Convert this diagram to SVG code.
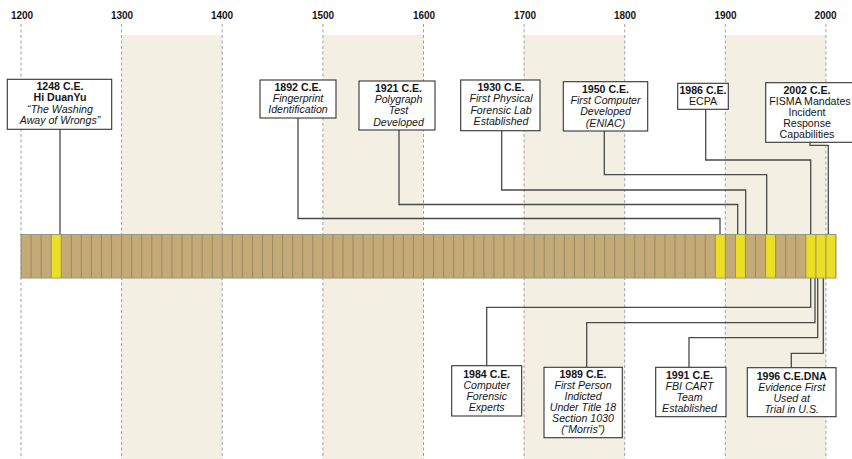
<svg xmlns="http://www.w3.org/2000/svg" width="852" height="459" viewBox="0 0 852 459">
<style>
text{font-family:"Liberation Sans",Arial,sans-serif;font-size:10.6px;fill:#151515;text-anchor:middle}
.ax{font-weight:bold;font-size:10px}
.b{font-weight:bold}
.i{font-style:italic}
.band{fill:#f3efe3}
.dash{stroke:#a0a0a0;stroke-width:1;stroke-dasharray:3 2.5}
.box{fill:#fff;stroke:#333;stroke-width:1.1}
.yel{fill:#ebdf26}
#connectors path{fill:none;stroke:#4a4a4a;stroke-width:1.3}
</style>
<rect width="852" height="459" fill="#fff"/>
<g id="bands">
<rect class="band" x="121.6" y="35" width="100.6" height="424"/>
<rect class="band" x="322.9" y="35" width="100.6" height="424"/>
<rect class="band" x="524.1" y="35" width="100.6" height="424"/>
<rect class="band" x="725.3" y="35" width="100.6" height="424"/>
</g>
<g id="axis">
<line class="dash" x1="21" y1="24" x2="21" y2="459"/>
<line class="dash" x1="121.6" y1="24" x2="121.6" y2="459"/>
<line class="dash" x1="222.2" y1="24" x2="222.2" y2="459"/>
<line class="dash" x1="322.9" y1="24" x2="322.9" y2="459"/>
<line class="dash" x1="423.5" y1="24" x2="423.5" y2="459"/>
<line class="dash" x1="524.1" y1="24" x2="524.1" y2="459"/>
<line class="dash" x1="624.7" y1="24" x2="624.7" y2="459"/>
<line class="dash" x1="725.3" y1="24" x2="725.3" y2="459"/>
<line class="dash" x1="825.9" y1="24" x2="825.9" y2="459"/>
<text class="ax" x="22" y="19">1200</text>
<text class="ax" x="122" y="19">1300</text>
<text class="ax" x="222" y="19">1400</text>
<text class="ax" x="323" y="19">1500</text>
<text class="ax" x="424" y="19">1600</text>
<text class="ax" x="525" y="19">1700</text>
<text class="ax" x="625" y="19">1800</text>
<text class="ax" x="725.5" y="19">1900</text>
<text class="ax" x="825.5" y="19">2000</text>
</g>
<g id="connectors">
<path d="M60,129.3V234.5"/>
<path d="M298,118V218.5H720V234.5"/>
<path d="M399,130V204.5H737.7V234.5"/>
<path d="M501.7,130.7V190H745.7V234.5"/>
<path d="M604.3,131V174.7H766.7V234.5"/>
<path d="M705.7,109.3V160H810.7V234.5"/>
<path d="M810,142.3V145.3H828.3V234.5"/>
<path d="M810.7,278V307.3H486.7V365.7"/>
<path d="M815,278V322.7H586.7V367.3"/>
<path d="M817.7,278V337.7H689V367.3"/>
<path d="M823.3,278V353.3H791.3V367.7"/>
</g>
<g id="bar">
<rect x="21" y="234.5" width="815" height="43.5" fill="#c4aa76"/>
<rect class="yel" x="51.2" y="234.5" width="10.06" height="43.5"/>
<rect class="yel" x="715.26" y="234.5" width="10.06" height="43.5"/>
<rect class="yel" x="735.38" y="234.5" width="10.06" height="43.5"/>
<rect class="yel" x="765.57" y="234.5" width="10.06" height="43.5"/>
<rect class="yel" x="805.81" y="234.5" width="30.19" height="43.5"/>
<line x1="21" y1="256.25" x2="836" y2="256.25" stroke="#9b8a66" stroke-width="43.5" stroke-dasharray="1 9.0617" stroke-dashoffset="0.5"/>
<rect x="21" y="234.5" width="815" height="43.5" fill="none" stroke="#9a9680" stroke-width="1"/>
</g>
<g id="n1248">
<rect class="box" x="7.3" y="79.3" width="104.4" height="50"/>
<text class="b" x="60" y="90">1248 C.E.</text>
<text class="b" x="60" y="101.3">Hi DuanYu</text>
<text class="i" x="60" y="112.6">“The Washing</text>
<text class="i" x="60" y="123.9">Away of Wrongs”</text>
</g>
<g id="n1892">
<rect class="box" x="260" y="80" width="76" height="38"/>
<text class="b" x="298" y="90.5">1892 C.E.</text>
<text class="i" x="298" y="101.8">Fingerprint</text>
<text class="i" x="298" y="113.1">Identification</text>
</g>
<g id="n1921">
<rect class="box" x="359" y="81" width="76" height="49"/>
<text class="b" x="398.5" y="91.7">1921 C.E.</text>
<text class="i" x="398.5" y="103">Polygraph</text>
<text class="i" x="398.5" y="114.3">Test</text>
<text class="i" x="398.5" y="125.6">Developed</text>
</g>
<g id="n1930">
<rect class="box" x="460.7" y="80" width="79.3" height="50.7"/>
<text class="b" x="501" y="91">1930 C.E.</text>
<text class="i" x="501" y="102.3">First Physical</text>
<text class="i" x="501" y="113.6">Forensic Lab</text>
<text class="i" x="501" y="124.9">Established</text>
</g>
<g id="n1950">
<rect class="box" x="563.3" y="81.7" width="84.4" height="49.3"/>
<text class="b" x="605.5" y="92.6">1950 C.E.</text>
<text class="i" x="605.5" y="103.9">First Computer</text>
<text class="i" x="605.5" y="115.2">Developed</text>
<text class="i" x="605.5" y="126.5">(ENIAC)</text>
</g>
<g id="n1986">
<rect class="box" x="677.7" y="83.3" width="50.6" height="26"/>
<text class="b" x="703" y="94">1986 C.E.</text>
<text x="703" y="105.2">ECPA</text>
</g>
<g id="n2002">
<rect class="box" x="765.7" y="82.7" width="92" height="59.6"/>
<text class="b" x="807" y="94">2002 C.E.</text>
<text x="810" y="105">FISMA Mandates</text>
<text x="807" y="116">Incident</text>
<text x="807" y="127">Response</text>
<text x="807" y="138">Capabilities</text>
</g>
<g id="n1984">
<rect class="box" x="451.7" y="365.7" width="70" height="50.3"/>
<text class="b" x="486.7" y="378.3">1984 C.E.</text>
<text class="i" x="486.7" y="389.2">Computer</text>
<text class="i" x="486.7" y="400.1">Forensic</text>
<text class="i" x="486.7" y="411">Experts</text>
</g>
<g id="n1989">
<rect class="box" x="544" y="367.3" width="78.3" height="70.4"/>
<text class="b" x="583" y="378.3">1989 C.E.</text>
<text class="i" x="583" y="389.2">First Person</text>
<text class="i" x="583" y="400.1">Indicted</text>
<text class="i" x="583" y="411">Under Title 18</text>
<text class="i" x="583" y="421.9">Section 1030</text>
<text class="i" x="583" y="432.8">(“Morris”)</text>
</g>
<g id="n1991">
<rect class="box" x="655.7" y="367.3" width="70.3" height="49.4"/>
<text class="b" x="689.5" y="378.5">1991 C.E.</text>
<text class="i" x="689.5" y="389.6">FBI CART</text>
<text class="i" x="689.5" y="400.7">Team</text>
<text class="i" x="689.5" y="411.8">Established</text>
</g>
<g id="n1996">
<rect class="box" x="747.3" y="367.7" width="88.7" height="49"/>
<text class="b" x="791.7" y="380">1996 C.E.DNA</text>
<text class="i" x="791.7" y="391">Evidence First</text>
<text class="i" x="791.7" y="402">Used at</text>
<text class="i" x="791.7" y="413">Trial in U.S.</text>
</g>
</svg>
